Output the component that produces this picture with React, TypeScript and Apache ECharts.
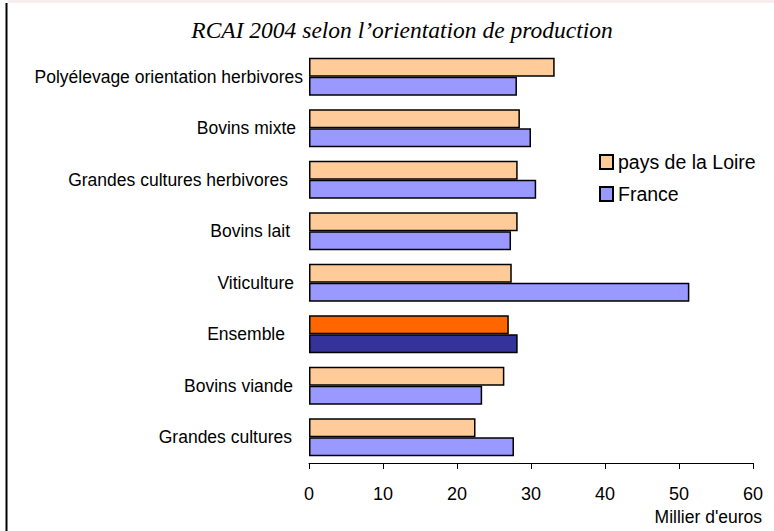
import React, { useEffect, useRef } from "react";
import * as echarts from "echarts";

const categories = [
  "Grandes cultures",
  "Bovins viande",
  "Ensemble",
  "Viticulture",
  "Bovins lait",
  "Grandes cultures herbivores",
  "Bovins mixte",
  "Polyélevage orientation herbivores",
];
const paysDeLaLoire = [22.5, 26.4, 27.0, 27.4, 28.2, 28.2, 28.5, 33.2];
const france = [27.7, 23.4, 28.2, 51.4, 27.3, 30.7, 30.0, 28.1];
const highlightCategory = "Ensemble";
const xTicks = { min: 0, max: 60, interval: 10 };

const ORANGE = "#FFCC99";
const BLUE = "#9999FF";
const ORANGE_HI = "#FF6600";
const BLUE_HI = "#333399";

// right-padding per label (layout only)
const labelPad: Record<string, number> = {
  "Grandes cultures": 11,
  "Bovins viande": 10,
  Ensemble: 18,
  Viticulture: 9,
  "Bovins lait": 13,
  "Grandes cultures herbivores": 15,
  "Bovins mixte": 7,
  "Polyélevage orientation herbivores": 0,
};

export default function App() {
  const ref = useRef<HTMLDivElement>(null);
  useEffect(() => {
    if (!ref.current) return;
    const chart = echarts.init(ref.current, null, { renderer: "svg" });
    const mk = (vals: number[], hi: string) =>
      vals.map((v, i) =>
        categories[i] === highlightCategory
          ? { value: v, itemStyle: { color: hi } }
          : v
      );
    chart.setOption({
      animation: false,
      backgroundColor: "#ffffff",
      title: {
        text: "RCAI 2004 selon l\u2019orientation de production",
        left: 397,
        textAlign: "center",
        top: 13,
        textStyle: {
          fontFamily: "Liberation Serif",
          fontStyle: "italic",
          fontWeight: "normal",
          fontSize: 23.5,
          color: "#000",
        },
      },
      legend: {
        data: ["pays de la Loire", "France"],
        orient: "vertical",
        left: 594,
        top: 147,
        icon: "rect",
        itemWidth: 13,
        itemHeight: 14,
        itemGap: 12,
        textStyle: { fontFamily: "Liberation Sans", fontSize: 19.5, color: "#000", padding: [0, 0, 0, 0] },
      },
      grid: { left: 309, right: 21, top: 51, bottom: 68, containLabel: false },
      xAxis: {
        type: "value",
        min: xTicks.min,
        max: xTicks.max,
        interval: xTicks.interval,
        splitLine: { show: false },
        axisLine: { show: true, lineStyle: { color: "#000", width: 1 } },
        axisTick: { show: true, length: 6, lineStyle: { color: "#000" } },
        axisLabel: {
          margin: 22,
          fontFamily: "Liberation Sans",
          fontSize: 18,
          color: "#000",
        },
      },
      yAxis: {
        type: "category",
        data: categories.map((c) => ({
          value: c,
          textStyle: { padding: [0, labelPad[c] || 0, 0, 0] },
        })),
        axisLine: { show: false },
        axisTick: { show: false },
        axisLabel: {
          margin: 6,
          fontFamily: "Liberation Sans",
          fontSize: 17.5,
          color: "#000",
        },
      },
      series: [
        {
          name: "pays de la Loire",
          type: "bar",
          data: mk(paysDeLaLoire, ORANGE_HI),
          itemStyle: { color: ORANGE, borderColor: "#000", borderWidth: 1.5 },
          barWidth: 19,
          barGap: "0%",
        },
        {
          name: "France",
          type: "bar",
          data: mk(france, BLUE_HI),
          itemStyle: { color: BLUE, borderColor: "#000", borderWidth: 1.5 },
          barWidth: 19,
          barGap: "0%",
        },
      ],
      graphic: [
        {
          type: "rect",
          shape: { x: 8, y: 0, width: 766, height: 3 },
          style: { fill: "#F8EEF0" },
        },
        {
          type: "line",
          shape: { x1: 6.5, y1: 3, x2: 6.5, y2: 531 },
          style: { stroke: "#000", lineWidth: 2 },
        },
        {
          type: "text",
          right: 12,
          top: 508,
          style: {
            text: "Millier d'euros",
            font: "17.5px 'Liberation Sans'",
            fill: "#000",
          },
        },
      ],
    });
    return () => chart.dispose();
  }, []);
  return (
    <div
      ref={ref}
      style={{ position: "fixed", left: 0, top: 0, width: 774, height: 531 }}
    />
  );
}
